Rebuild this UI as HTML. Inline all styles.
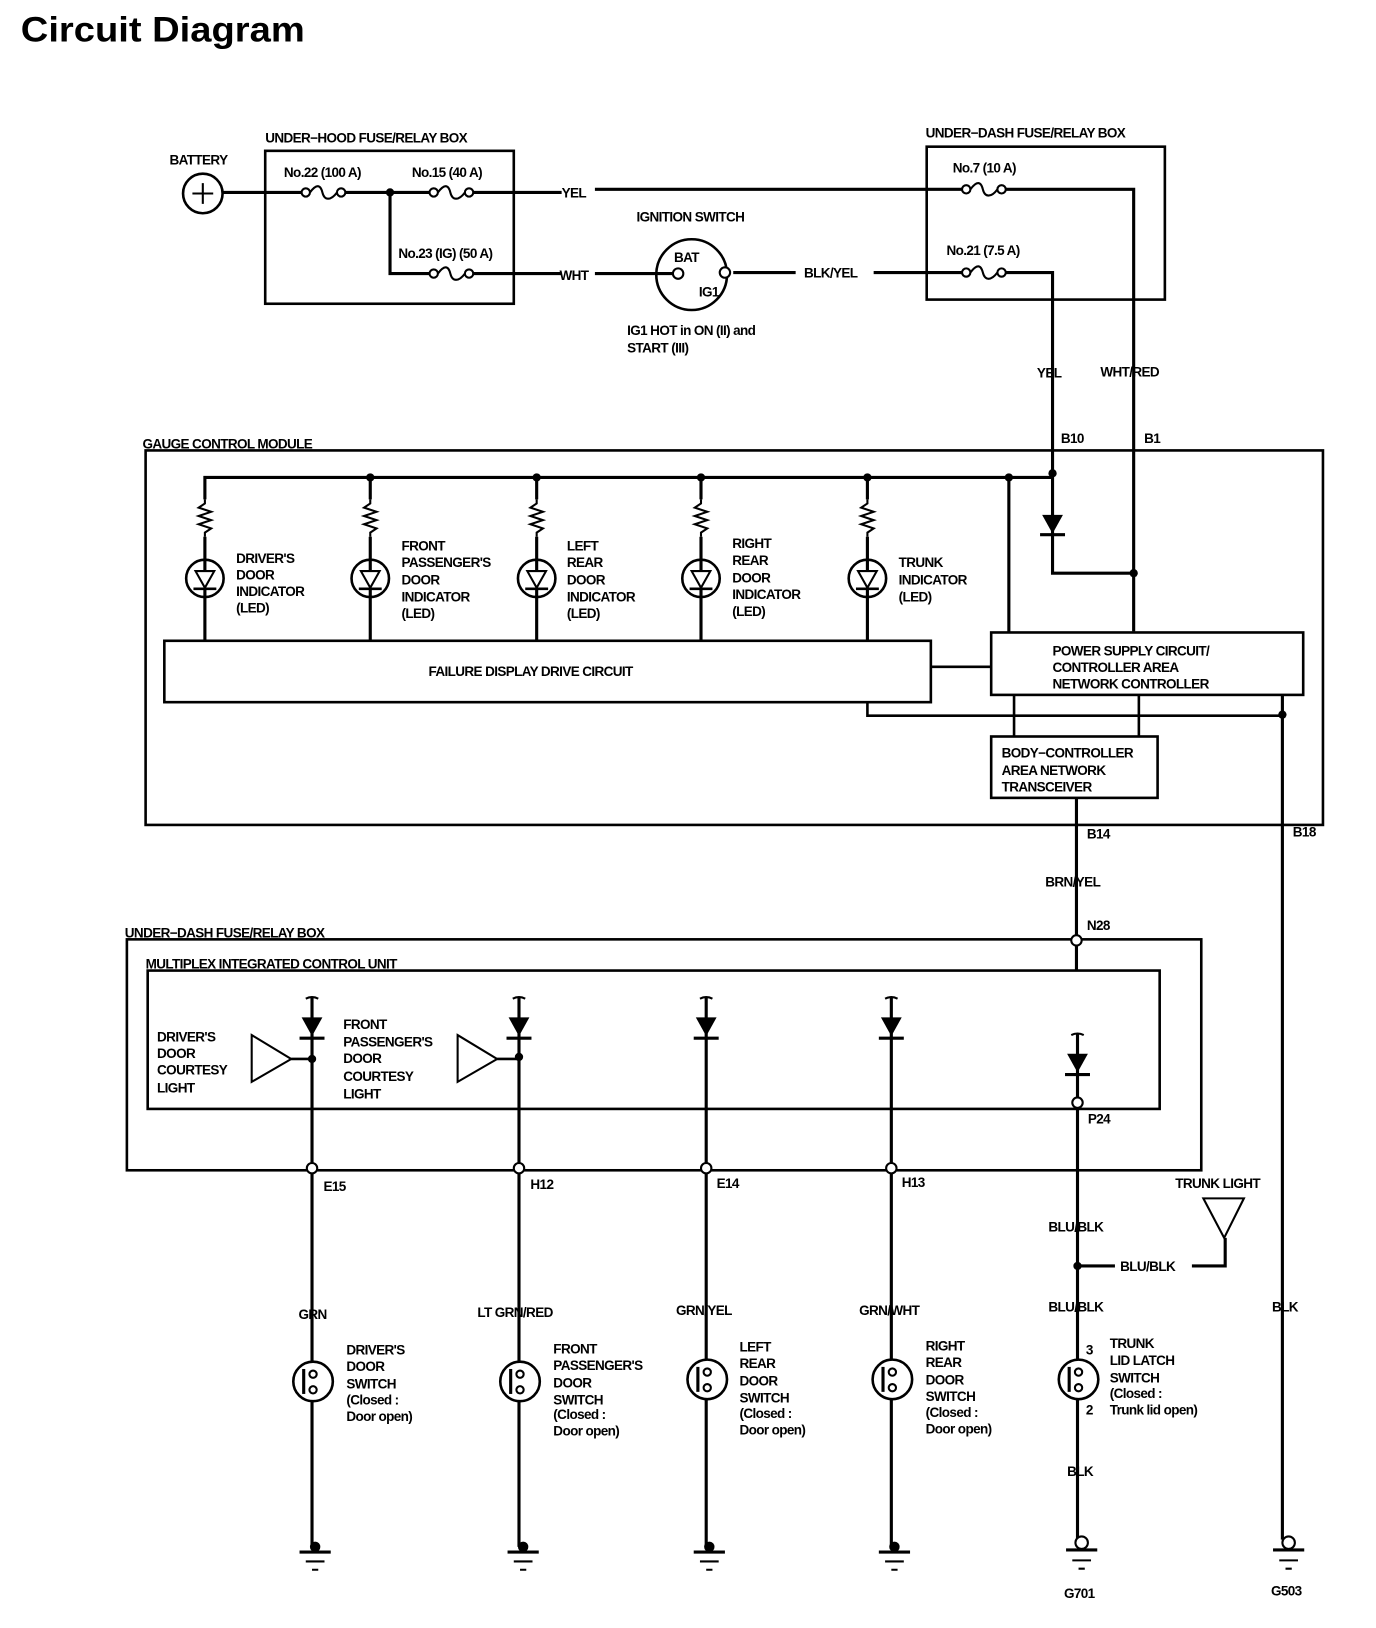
<!DOCTYPE html>
<html><head><meta charset="utf-8"><style>
html,body{margin:0;padding:0;background:#fff;}
svg{display:block;}
text{font-family:"Liberation Sans",sans-serif;font-weight:bold;font-size:13px;fill:#000;letter-spacing:-0.6px;}
</style></head><body>
<svg width="1376" height="1628" viewBox="0 0 1323 1565" preserveAspectRatio="none" xmlns="http://www.w3.org/2000/svg">
<defs>
<g id="fuse"><circle cx="4" cy="0" r="4" fill="#fff" stroke="#000" stroke-width="2"/><path d="M8 0 C14 -8 18 -8 20 0 C22 8 28 8 34 0" fill="none" stroke="#000" stroke-width="2"/><circle cx="38" cy="0" r="4" fill="#fff" stroke="#000" stroke-width="2"/></g>
<g id="res"><path d="M0 0 V4 L-6 8 L6 12 L-6 16 L6 20 L-6 24 L6 28 L0 32 V36" fill="none" stroke="#000" stroke-width="2"/></g>
<g id="led"><circle cx="0" cy="0" r="18" fill="#fff" stroke="#000" stroke-width="2.5"/><path d="M-9 -7 H9 L0 9 Z" fill="#fff" stroke="#000" stroke-width="2"/><path d="M-11 10 H11" stroke="#000" stroke-width="2.5"/><path d="M0 -18 V-7 M0 10 V18" stroke="#000" stroke-width="3"/></g>
<g id="dio"><path d="M-6 0 Q0 -3 6 0" fill="none" stroke="#000" stroke-width="2"/><path d="M-10 18 H10 L0 36 Z" fill="#000"/><path d="M-12 38 H12" stroke="#000" stroke-width="3"/></g>
<g id="sw"><circle cx="0" cy="0" r="19" fill="#fff" stroke="#000" stroke-width="2.5"/><path d="M-9 -12 V12" stroke="#000" stroke-width="3"/><circle cx="0" cy="-7" r="3.5" fill="#fff" stroke="#000" stroke-width="2"/><circle cx="0" cy="8" r="3.5" fill="#fff" stroke="#000" stroke-width="2"/></g>
<g id="gnd"><circle cx="0" cy="0" r="5" fill="#000"/><path d="M-15 5 H15" stroke="#000" stroke-width="3"/><path d="M-9 14 H9 M-3 22 H3" stroke="#000" stroke-width="2"/></g>
<g id="gnd2"><circle cx="0" cy="-3" r="6" fill="#fff" stroke="#000" stroke-width="2"/><path d="M-15 4 H15" stroke="#000" stroke-width="3"/><path d="M-9 14 H9 M-3 22 H3" stroke="#000" stroke-width="2"/></g>
</defs>

<text x="20" y="40" textLength="273" lengthAdjust="spacingAndGlyphs" style="font-size:34px;letter-spacing:0">Circuit Diagram</text>

<g fill="none" stroke="#000" stroke-width="3">
<rect x="255" y="145" width="239" height="147" stroke-width="2.5"/>
<rect x="891" y="141" width="229" height="147" stroke-width="2.5"/>
<circle cx="195" cy="186" r="19" stroke-width="2.5"/>
<path d="M185 186 H205 M195 176 V196" stroke-width="2"/>
<path d="M214 185 H290 M328 185 H413 M451 185 H540"/>
<path d="M375 185 V263 H413 M451 263 H540"/>
<path d="M572 263 H648 M705 262 H765"/>
<path d="M572 182 H925 M963 182 H1090 V607"/>
<path d="M840 262 H925 M963 262 H1012 V551 H1090"/>
<circle cx="665" cy="264" r="34" stroke-width="2.5"/>

<rect x="140" y="433" width="1132" height="360" stroke-width="2.5"/>
<path d="M197 480 V459 H1012"/>
<path d="M356 459 V480 M516 459 V480 M674 459 V480 M834 459 V480"/>
<path d="M197 574 V616 M356 574 V616 M516 574 V616 M674 574 V616 M834 574 V616"/>
<path d="M197 516 V538 M356 516 V538 M516 516 V538 M674 516 V538 M834 516 V538"/>
<path d="M970 459 V608"/>
<rect x="158" y="616" width="737" height="59" stroke-width="2.5"/>
<rect x="953" y="608" width="300" height="60" stroke-width="2.5"/>
<rect x="953" y="708" width="160" height="59" stroke-width="2.5"/>
<path d="M895 641 H953" stroke-width="2.5"/>
<path d="M834 675 V688 H1233" stroke-width="2.5"/>
<path d="M975 668 V708 M1095 668 V708" stroke-width="2.5"/>
<path d="M1233 668 V1480"/>
<path d="M1035 767 V933"/>

<rect x="122" y="903" width="1033" height="222" stroke-width="2.5"/>
<rect x="142" y="933" width="973" height="133" stroke-width="2.5"/>
<path d="M242 995 L280 1018 L242 1040 Z" stroke-width="2"/>
<path d="M440 995 L478 1018 L440 1040 Z" stroke-width="2"/>
<path d="M280 1018 H300 M478 1018 H499" stroke-width="2.5"/>
<path d="M300 958 V1487 M499 958 V1487 M679 958 V1487 M857 958 V1487"/>
<path d="M1036 993 V1480"/>
<path d="M1036 1217 H1072 M1146 1217 H1178 V1190" stroke-width="3"/>
<path d="M1157 1152 H1196 L1177 1190 Z" stroke-width="2"/>
</g>

<use href="#fuse" x="290" y="185"/>
<use href="#fuse" x="413" y="185"/>
<use href="#fuse" x="413" y="263"/>
<use href="#fuse" x="925" y="182"/>
<use href="#fuse" x="925" y="262"/>
<circle cx="652" cy="263" r="5" fill="#fff" stroke="#000" stroke-width="2"/>
<circle cx="697" cy="262" r="5" fill="#fff" stroke="#000" stroke-width="2"/>

<g fill="#000">
<circle cx="375" cy="185" r="4"/>
<circle cx="356" cy="459" r="4"/><circle cx="516" cy="459" r="4"/><circle cx="674" cy="459" r="4"/><circle cx="834" cy="459" r="4"/><circle cx="970" cy="459" r="4"/><circle cx="1012" cy="455" r="4"/>
<circle cx="1090" cy="551" r="4"/><circle cx="1233" cy="687" r="4"/>
<circle cx="300" cy="1018" r="4"/><circle cx="499" cy="1016" r="4"/>
<circle cx="1036" cy="1217" r="4"/>
<path d="M1002 495 H1022 L1012 513 Z"/>
</g>
<path d="M1000 514 H1024" stroke="#000" stroke-width="3"/>

<use href="#res" x="197" y="480"/><use href="#res" x="356" y="480"/><use href="#res" x="516" y="480"/><use href="#res" x="674" y="480"/><use href="#res" x="834" y="480"/>
<use href="#led" x="197" y="556"/><use href="#led" x="356" y="556"/><use href="#led" x="516" y="556"/><use href="#led" x="674" y="556"/><use href="#led" x="834" y="556"/>

<use href="#dio" x="300" y="960"/><use href="#dio" x="499" y="960"/><use href="#dio" x="679" y="960"/><use href="#dio" x="857" y="960"/><use href="#dio" x="1036" y="995"/>

<g fill="#fff" stroke="#000" stroke-width="2">
<circle cx="1035" cy="904" r="5"/><circle cx="1036" cy="1060" r="5"/>
<circle cx="300" cy="1123" r="5"/><circle cx="499" cy="1123" r="5"/><circle cx="679" cy="1123" r="5"/><circle cx="857" cy="1123" r="5"/>
</g>

<use href="#sw" x="301" y="1328"/><use href="#sw" x="500" y="1328"/><use href="#sw" x="680" y="1326"/><use href="#sw" x="858" y="1326"/><use href="#sw" x="1037" y="1326"/>
<use href="#gnd" x="303" y="1487"/><use href="#gnd" x="503" y="1487"/><use href="#gnd" x="682" y="1487"/><use href="#gnd" x="860" y="1487"/>
<use href="#gnd2" x="1040" y="1486"/><use href="#gnd2" x="1239" y="1486"/>

<text x="163" y="158">BATTERY</text>
<text x="255" y="137">UNDER−HOOD FUSE/RELAY BOX</text>
<text x="273" y="170">No.22 (100 A)</text>
<text x="396" y="170">No.15 (40 A)</text>
<text x="383" y="248">No.23 (IG) (50 A)</text>
<text x="540" y="190">YEL</text>
<text x="538" y="269">WHT</text>
<text x="612" y="213">IGNITION SWITCH</text>
<text x="648" y="252">BAT</text>
<text x="672" y="285">IG1</text>
<text x="603" y="322">IG1 HOT in ON (II) and</text>
<text x="603" y="339">START (III)</text>
<text x="773" y="267">BLK/YEL</text>
<text x="890" y="132">UNDER−DASH FUSE/RELAY BOX</text>
<text x="916" y="166">No.7 (10 A)</text>
<text x="910" y="245">No.21 (7.5 A)</text>
<text x="997" y="363">YEL</text>
<text x="1058" y="362">WHT/RED</text>
<text x="1020" y="426">B10</text>
<text x="1100" y="426">B1</text>
<text x="137" y="431">GAUGE CONTROL MODULE</text>
<text x="227" y="541">DRIVER'S</text><text x="227" y="557">DOOR</text><text x="227" y="573">INDICATOR</text><text x="227" y="589">(LED)</text>
<text x="386" y="529">FRONT</text><text x="386" y="545">PASSENGER'S</text><text x="386" y="562">DOOR</text><text x="386" y="578">INDICATOR</text><text x="386" y="594">(LED)</text>
<text x="545" y="529">LEFT</text><text x="545" y="545">REAR</text><text x="545" y="562">DOOR</text><text x="545" y="578">INDICATOR</text><text x="545" y="594">(LED)</text>
<text x="704" y="527">RIGHT</text><text x="704" y="543">REAR</text><text x="704" y="560">DOOR</text><text x="704" y="576">INDICATOR</text><text x="704" y="592">(LED)</text>
<text x="864" y="545">TRUNK</text><text x="864" y="562">INDICATOR</text><text x="864" y="578">(LED)</text>
<text x="412" y="650">FAILURE DISPLAY DRIVE CIRCUIT</text>
<text x="1012" y="630">POWER SUPPLY CIRCUIT/</text><text x="1012" y="646">CONTROLLER AREA</text><text x="1012" y="662">NETWORK CONTROLLER</text>
<text x="963" y="728">BODY−CONTROLLER</text><text x="963" y="745">AREA NETWORK</text><text x="963" y="761">TRANSCEIVER</text>
<text x="1045" y="806">B14</text>
<text x="1243" y="804">B18</text>
<text x="1005" y="852">BRN/YEL</text>
<text x="1045" y="894">N28</text>
<text x="120" y="901">UNDER−DASH FUSE/RELAY BOX</text>
<text x="140" y="931">MULTIPLEX INTEGRATED CONTROL UNIT</text>
<text x="151" y="1001">DRIVER'S</text><text x="151" y="1017">DOOR</text><text x="151" y="1033">COURTESY</text><text x="151" y="1050">LIGHT</text>
<text x="330" y="989">FRONT</text><text x="330" y="1006">PASSENGER'S</text><text x="330" y="1022">DOOR</text><text x="330" y="1039">COURTESY</text><text x="330" y="1056">LIGHT</text>
<text x="311" y="1145">E15</text>
<text x="510" y="1143">H12</text>
<text x="689" y="1142">E14</text>
<text x="867" y="1141">H13</text>
<text x="1046" y="1080">P24</text>
<text x="1130" y="1142">TRUNK LIGHT</text>
<text x="1008" y="1184">BLU/BLK</text>
<text x="1077" y="1222">BLU/BLK</text>
<text x="1008" y="1261">BLU/BLK</text>
<text x="287" y="1268">GRN</text>
<text x="459" y="1266">LT GRN/RED</text>
<text x="650" y="1264">GRN/YEL</text>
<text x="826" y="1264">GRN/WHT</text>
<text x="1223" y="1261">BLK</text>
<text x="333" y="1302">DRIVER'S</text><text x="333" y="1318">DOOR</text><text x="333" y="1335">SWITCH</text><text x="333" y="1350">(Closed :</text><text x="333" y="1366">Door open)</text>
<text x="532" y="1301">FRONT</text><text x="532" y="1317">PASSENGER'S</text><text x="532" y="1334">DOOR</text><text x="532" y="1350">SWITCH</text><text x="532" y="1364">(Closed :</text><text x="532" y="1380">Door open)</text>
<text x="711" y="1299">LEFT</text><text x="711" y="1315">REAR</text><text x="711" y="1332">DOOR</text><text x="711" y="1348">SWITCH</text><text x="711" y="1363">(Closed :</text><text x="711" y="1379">Door open)</text>
<text x="890" y="1298">RIGHT</text><text x="890" y="1314">REAR</text><text x="890" y="1331">DOOR</text><text x="890" y="1347">SWITCH</text><text x="890" y="1362">(Closed :</text><text x="890" y="1378">Door open)</text>
<text x="1067" y="1296">TRUNK</text><text x="1067" y="1312">LID LATCH</text><text x="1067" y="1329">SWITCH</text><text x="1067" y="1344">(Closed :</text><text x="1067" y="1360">Trunk lid open)</text>
<text x="1044" y="1302">3</text>
<text x="1044" y="1360">2</text>
<text x="1026" y="1419">BLK</text>
<text x="1023" y="1536">G701</text>
<text x="1222" y="1534">G503</text>
</svg>
</body></html>
